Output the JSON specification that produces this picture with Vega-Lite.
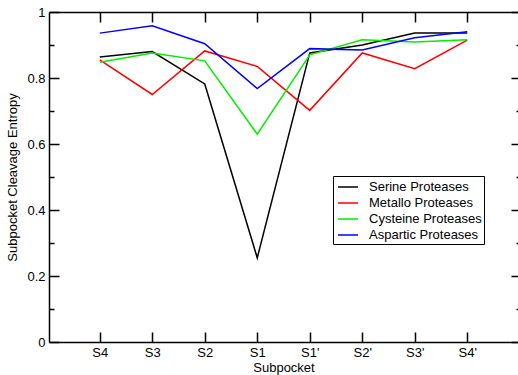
{
  "$schema": "https://vega.github.io/schema/vega-lite/v6.json",
  "width": 469,
  "height": 330,
  "autosize": {"type": "none"},
  "padding": {"left": 49, "top": 12, "right": 0, "bottom": 33},
  "background": "white",
  "config": {
    "view": {"stroke": null},
    "font": "Liberation Sans",
    "axis": {
      "domainColor": "black",
      "domainWidth": 1.5,
      "tickColor": "black",
      "tickWidth": 1.5,
      "grid": false,
      "labelColor": "black",
      "labelFont": "Liberation Sans",
      "labelFontSize": 13,
      "labelFlush": false,
      "titleColor": "black",
      "titleFont": "Liberation Sans",
      "titleFontSize": 13,
      "titleFontWeight": "normal"
    }
  },
  "data": {
    "values": [
      {"subpocket": "S4", "protease": "Serine Proteases", "entropy": 0.864},
      {"subpocket": "S3", "protease": "Serine Proteases", "entropy": 0.880},
      {"subpocket": "S2", "protease": "Serine Proteases", "entropy": 0.782},
      {"subpocket": "S1", "protease": "Serine Proteases", "entropy": 0.255},
      {"subpocket": "S1'", "protease": "Serine Proteases", "entropy": 0.876},
      {"subpocket": "S2'", "protease": "Serine Proteases", "entropy": 0.900},
      {"subpocket": "S3'", "protease": "Serine Proteases", "entropy": 0.936},
      {"subpocket": "S4'", "protease": "Serine Proteases", "entropy": 0.936},
      {"subpocket": "S4", "protease": "Metallo Proteases", "entropy": 0.855},
      {"subpocket": "S3", "protease": "Metallo Proteases", "entropy": 0.750},
      {"subpocket": "S2", "protease": "Metallo Proteases", "entropy": 0.882},
      {"subpocket": "S1", "protease": "Metallo Proteases", "entropy": 0.835},
      {"subpocket": "S1'", "protease": "Metallo Proteases", "entropy": 0.702},
      {"subpocket": "S2'", "protease": "Metallo Proteases", "entropy": 0.876},
      {"subpocket": "S3'", "protease": "Metallo Proteases", "entropy": 0.828},
      {"subpocket": "S4'", "protease": "Metallo Proteases", "entropy": 0.915},
      {"subpocket": "S4", "protease": "Cysteine Proteases", "entropy": 0.848},
      {"subpocket": "S3", "protease": "Cysteine Proteases", "entropy": 0.876},
      {"subpocket": "S2", "protease": "Cysteine Proteases", "entropy": 0.852},
      {"subpocket": "S1", "protease": "Cysteine Proteases", "entropy": 0.630},
      {"subpocket": "S1'", "protease": "Cysteine Proteases", "entropy": 0.870},
      {"subpocket": "S2'", "protease": "Cysteine Proteases", "entropy": 0.916},
      {"subpocket": "S3'", "protease": "Cysteine Proteases", "entropy": 0.909},
      {"subpocket": "S4'", "protease": "Cysteine Proteases", "entropy": 0.916},
      {"subpocket": "S4", "protease": "Aspartic Proteases", "entropy": 0.936},
      {"subpocket": "S3", "protease": "Aspartic Proteases", "entropy": 0.958},
      {"subpocket": "S2", "protease": "Aspartic Proteases", "entropy": 0.904},
      {"subpocket": "S1", "protease": "Aspartic Proteases", "entropy": 0.768},
      {"subpocket": "S1'", "protease": "Aspartic Proteases", "entropy": 0.889},
      {"subpocket": "S2'", "protease": "Aspartic Proteases", "entropy": 0.885},
      {"subpocket": "S3'", "protease": "Aspartic Proteases", "entropy": 0.922},
      {"subpocket": "S4'", "protease": "Aspartic Proteases", "entropy": 0.940}
    ]
  },
  "layer": [
    {
      "mark": {"type": "line", "strokeWidth": 1.5},
      "encoding": {
        "x": {
          "field": "subpocket", "type": "nominal",
          "sort": ["S4", "S3", "S2", "S1", "S1'", "S2'", "S3'", "S4'"],
          "scale": {"type": "point", "padding": 0.967},
          "axis": {"orient": "bottom", "title": "Subpocket", "labelAngle": 0, "tickSize": -10, "labelPadding": 14, "titlePadding": 2}
        },
        "y": {
          "field": "entropy", "type": "quantitative",
          "scale": {"domain": [0, 1], "nice": false, "zero": true},
          "axis": {"orient": "left", "title": "Subpocket Cleavage Entropy", "values": [0, 0.2, 0.4, 0.6, 0.8, 1], "format": "~g", "tickSize": -10, "labelPadding": 14, "titlePadding": 7}
        },
        "color": {
          "field": "protease", "type": "nominal",
          "scale": {"domain": ["Serine Proteases", "Metallo Proteases", "Cysteine Proteases", "Aspartic Proteases"], "range": ["#000000", "#ff0000", "#00ee00", "#0000ff"]},
          "legend": {
            "title": null, "orient": "none", "legendX": 284, "legendY": 164,
            "strokeColor": "black", "fillColor": "white", "padding": 2,
            "symbolType": "M-1.25,0H1.25", "symbolSize": 256, "symbolStrokeWidth": 1.5, "symbolOffset": 4,
            "labelFont": "Liberation Sans", "labelFontSize": 13, "labelColor": "black", "labelOffset": 12, "rowPadding": 0
          }
        }
      }
    },
    {
      "mark": {"type": "point", "opacity": 0},
      "encoding": {
        "x": {"field": "subpocket", "type": "nominal", "sort": ["S4", "S3", "S2", "S1", "S1'", "S2'", "S3'", "S4'"],
          "axis": {"orient": "top", "title": null, "labels": false, "tickSize": -10}},
        "y": {"field": "entropy", "type": "quantitative",
          "axis": {"orient": "right", "title": null, "labels": false, "domain": false, "values": [0, 0.2, 0.4, 0.6, 0.8, 1], "tickSize": -7}}
      }
    },
    {
      "mark": {"type": "point", "opacity": 0},
      "encoding": {
        "x": {"field": "subpocket", "type": "nominal", "sort": ["S4", "S3", "S2", "S1", "S1'", "S2'", "S3'", "S4'"], "axis": null},
        "y": {"field": "entropy", "type": "quantitative",
          "axis": {"orient": "left", "title": null, "labels": false, "domain": false, "values": [0.1, 0.3, 0.5, 0.7, 0.9], "tickSize": -5}}
      }
    },
    {
      "mark": {"type": "point", "opacity": 0},
      "encoding": {
        "x": {"field": "subpocket", "type": "nominal", "sort": ["S4", "S3", "S2", "S1", "S1'", "S2'", "S3'", "S4'"], "axis": null},
        "y": {"field": "entropy", "type": "quantitative",
          "axis": {"orient": "right", "title": null, "labels": false, "domain": false, "values": [0.1, 0.3, 0.5, 0.7, 0.9], "tickSize": -2}}
      }
    }
  ],
  "resolve": {"axis": {"x": "independent", "y": "independent"}}
}
